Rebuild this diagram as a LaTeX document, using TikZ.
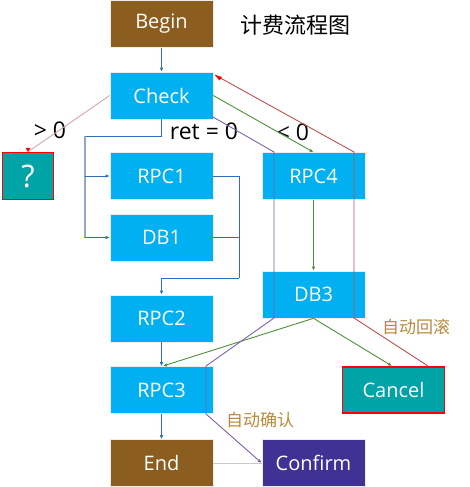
\documentclass[tikz,border=0pt]{standalone}
\usepackage{fontspec}
\setmainfont{Open Sans}
\newfontfamily\cjk{Noto Sans CJK SC}
\usetikzlibrary{arrows.meta}
\definecolor{boxcyan}{HTML}{00B0F0}
\definecolor{boxbrown}{HTML}{8B5E1F}
\definecolor{boxteal}{HTML}{00A3A6}
\definecolor{boxpurple}{HTML}{403294}
\definecolor{lnblue}{HTML}{2F6EBA}
\definecolor{lngray}{HTML}{93A7C0}
\definecolor{lngreen}{HTML}{4E8F3A}
\definecolor{lnpurple}{HTML}{7F5FAD}
\definecolor{lnred}{HTML}{C0504D}
\definecolor{lnrose}{HTML}{D4A6A6}
\definecolor{lnlight}{HTML}{C8C8C8}
\definecolor{lblgold}{HTML}{B8893C}
\tikzset{
  box/.style={rectangle, minimum width=103pt, minimum height=47pt, inner sep=0pt,
    text=white, font=\fontsize{20}{22}\selectfont, draw=white!85!gray, line width=0.6pt},
  cyanbox/.style={box, fill=boxcyan},
  brownbox/.style={box, fill=boxbrown},
  tealbox/.style={box, fill=boxteal, draw=red, line width=1.4pt},
  purplebox/.style={box, fill=boxpurple},
  conn/.style={line width=0.9pt},
  tip/.style={-{Latex[length=4pt,width=3.5pt]}},
  cond/.style={font=\fontsize{23}{25}\selectfont, text=black, inner sep=0pt},
  auto/.style={font=\cjk\fontsize{17}{19}\selectfont, text=lblgold, inner sep=0pt},
}
\begin{document}
\begin{tikzpicture}[x=1pt,y=-1pt]
\useasboundingbox (0,0) rectangle (470,487);
\node[brownbox] (begin) at (161.5,24) {Begin};
\node[font=\cjk\fontsize{22}{24}\selectfont, inner sep=0pt] (title) at (295,25) {计费流程图};
\node[cyanbox] (check) at (161.5,95.5) {Check};
\node[tealbox, minimum width=51pt, minimum height=47pt, font=\fontsize{31}{33}\selectfont] (q) at (28,176) {?};
\node[cyanbox] (rpc1) at (161.5,176) {RPC1};
\node[cyanbox] (db1) at (161.5,237.5) {DB1};
\node[cyanbox] (rpc4) at (313.5,176) {RPC4};
\node[cyanbox] (db3) at (313.5,294.5) {DB3};
\node[cyanbox] (rpc2) at (161.5,318.5) {RPC2};
\node[cyanbox] (rpc3) at (161.5,390) {RPC3};
\node[tealbox, minimum width=102pt, minimum height=46pt] (cancel) at (393.5,390) {Cancel};
\node[brownbox] (end) at (161.5,463) {End};
\node[purplebox] (confirm) at (313.5,463) {Confirm};

\node[cond] (gt) at (50,130) {> 0};
\node[cond] (eq) at (204,131) {ret = 0};
\node[cond] (lt) at (293,132) {< 0};
\node[auto] (rollback) at (416,327) {自动回滚};
\node[auto] (confirmlbl) at (260,420) {自动确认};

\coordinate (b1) at (161.5,136);
\coordinate (b2) at (85,136);
\coordinate (b3) at (85,176);
\coordinate (b4) at (85,237.5);
\coordinate (m1) at (239,176);
\coordinate (m2) at (239,237.5);
\coordinate (m3) at (239,278);
\coordinate (m4) at (161.5,278);
\coordinate (p0) at (213,117);
\coordinate (p1) at (274,152);
\coordinate (p2) at (274,318);
\coordinate (p3) at (206,366);
\coordinate (p4) at (206,414);
\coordinate (r0) at (428,366);
\coordinate (r1) at (354,318);
\coordinate (r2) at (354,152);
\coordinate (r3) at (215,75);
\coordinate (c1) at (163,366);
\coordinate (c2) at (392,366);

\draw[conn, lnblue, tip] (begin) -- (check);
\draw[conn, lnrose] (check.west) -- (q.north);
\fill[red] (q.north) ++(-2.5,-4) -- ++(5,0) -- (q.north) -- cycle;
\draw[conn, lnblue] (check.south) -- (b1) -- (b2);
\draw[conn, lngray, line width=1.2pt] (b2) -- (b4);
\draw[conn, lnblue, tip] (b3) -- (rpc1.west);
\draw[conn, lnblue, tip] (b4) -- (db1.west);
\draw[conn, lnblue] (rpc1.east) -- (m1) -- (m3);
\draw[conn, lnblue] (db1.east) -- (m2);
\draw[conn, lnblue, tip] (m3) -- (m4) -- (rpc2.north);
\draw[conn, lngreen, tip] (check.east) -- (rpc4.north);
\draw[conn, lngreen, tip] (rpc4) -- (db3);
\draw[conn, lngreen, tip] (db3.south) -- (c1);
\draw[conn, lngreen, tip] (db3.south) -- (c2);
\draw[conn, lnblue, tip] (rpc2) -- (rpc3);
\draw[conn, lnblue, tip] (rpc3) -- (end);
\draw[conn, lnlight] (end.east) -- (confirm.west);
\draw[conn, lnpurple, tip] (p0) -- (p1) -- (p2) -- (p3) -- (p4) -- (confirm.west);
\draw[conn, lnred] (r0) -- (r1) -- (r2) -- (r3);
\fill[red] (r3) -- ++(7,2) -- ++(-2.5,3.5) -- cycle;
\end{tikzpicture}
\end{document}
